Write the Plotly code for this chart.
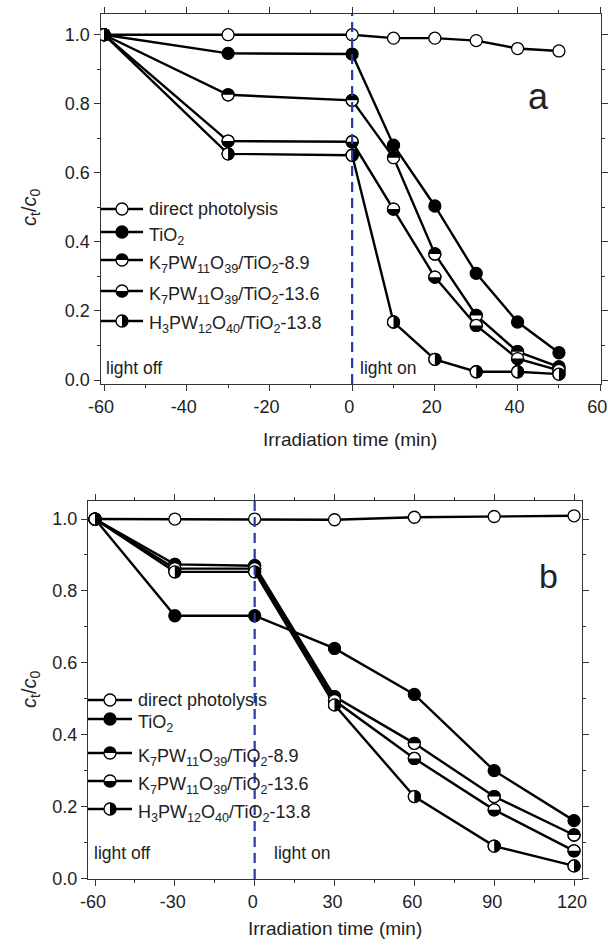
import plotly.graph_objects as go

# ---------------- data ----------------
time_a = [-60, -30, 0, 10, 20, 30, 40, 50]
photolysis_a = [1.0, 1.0, 1.0, 0.99, 0.99, 0.983, 0.96, 0.953]
tio2_a = [1.0, 0.946, 0.944, 0.68, 0.504, 0.309, 0.168, 0.079]
k89_a = [1.0, 0.826, 0.81, 0.644, 0.365, 0.187, 0.082, 0.038]
k136_a = [1.0, 0.692, 0.69, 0.495, 0.298, 0.158, 0.062, 0.028]
h138_a = [1.0, 0.655, 0.651, 0.168, 0.06, 0.024, 0.024, 0.017]

time_b = [-60, -30, 0, 30, 60, 90, 120]
photolysis_b = [1.0, 1.0, 1.0, 0.998, 1.005, 1.007, 1.009]
tio2_b = [1.0, 0.731, 0.731, 0.640, 0.512, 0.300, 0.161]
k89_b = [1.0, 0.874, 0.870, 0.506, 0.376, 0.228, 0.121]
k136_b = [1.0, 0.862, 0.862, 0.495, 0.334, 0.191, 0.077]
h138_b = [1.0, 0.853, 0.853, 0.483, 0.228, 0.090, 0.035]

series_names = [
    "direct photolysis",
    "TiO<sub>2</sub>",
    "K<sub>7</sub>PW<sub>11</sub>O<sub>39</sub>/TiO<sub>2</sub>-8.9",
    "K<sub>7</sub>PW<sub>11</sub>O<sub>39</sub>/TiO<sub>2</sub>-13.6",
    "H<sub>3</sub>PW<sub>12</sub>O<sub>40</sub>/TiO<sub>2</sub>-13.8",
]
series_styles = ["open", "filled", "top", "bottom", "right"]

xticks_a = [-60, -40, -20, 0, 20, 40, 60]
xticks_b = [-60, -30, 0, 30, 60, 90, 120]
yticks = [0.0, 0.2, 0.4, 0.6, 0.8, 1.0]

# ---------------- layout helpers ----------------
W, H = 608, 946
FONT = "Liberation Sans, Arial, sans-serif"
MR = 6.0       # marker radius (px)
MLW = 1.3      # marker outline width
LW = 2.4       # data line width
BLUE = "#2a3a9e"


def pxx(x):
    return x / W


def pxy(y):
    return 1 - y / H


K = 0.5523


def half_path(kind, r):
    k = K * r
    if kind == "top":
        pts = [(-r, 0), (-r, k), (-k, r), (0, r), (k, r), (r, k), (r, 0)]
    elif kind == "bottom":
        pts = [(-r, 0), (-r, -k), (-k, -r), (0, -r), (k, -r), (r, -k), (r, 0)]
    else:  # right
        pts = [(0, r), (k, r), (r, k), (r, 0), (r, -k), (k, -r), (0, -r)]
    f = lambda p: f"{p[0]:.3f},{p[1]:.3f}"
    return (f"M{f(pts[0])} C{f(pts[1])} {f(pts[2])} {f(pts[3])} "
            f"C{f(pts[4])} {f(pts[5])} {f(pts[6])} Z")


shapes = []
annotations = []


def marker_shapes(xref, yref, xa, ya, kind):
    out = [dict(type="circle", xref=xref, yref=yref,
                xsizemode="pixel", ysizemode="pixel",
                xanchor=xa, yanchor=ya, x0=-MR, x1=MR, y0=-MR, y1=MR,
                fillcolor="white", line=dict(color="black", width=MLW),
                layer="above")]
    out.append(dict(type="path", xref=xref, yref=yref,
                    xsizemode="pixel", ysizemode="pixel",
                    xanchor=xa, yanchor=ya, path=half_path(kind, MR + 0.2),
                    fillcolor="black", line=dict(width=0), layer="above"))
    return out


fig = go.Figure()

panels = [
    dict(t=time_a, ys=[photolysis_a, tio2_a, k89_a, k136_a, h138_a], xa="x", ya="y"),
    dict(t=time_b, ys=[photolysis_b, tio2_b, k89_b, k136_b, h138_b], xa="x2", ya="y2"),
]

for p in panels:
    for name, style, vals in zip(series_names, series_styles, p["ys"]):
        fill = "black" if style == "filled" else "white"
        fig.add_trace(go.Scatter(
            x=p["t"], y=vals, mode="lines+markers", name=name,
            xaxis=p["xa"], yaxis=p["ya"], showlegend=False,
            line=dict(color="black", width=LW),
            marker=dict(size=2 * MR, color=fill, line=dict(color="black", width=MLW)),
        ))
    # half-filled markers drawn in series order
    for style, vals in zip(series_styles, p["ys"]):
        if style in ("top", "bottom", "right"):
            for t, v in zip(p["t"], vals):
                shapes.extend(marker_shapes(p["xa"], p["ya"], t, v, style))

# dashed "light on" lines at t = 0
for xa, ya in [("x", "y"), ("x2", "y2")]:
    shapes.append(dict(type="line", xref=xa, yref=ya + " domain", x0=0, x1=0, y0=0, y1=1,
                       line=dict(color=BLUE, width=2.2, dash="10px,6px"), layer="above"))

# ---------------- manual legends ----------------
legends = [
    dict(rows=[209, 232, 260, 291, 321], x0=100.7, x1=143, xm=122, xt=147, size=18),
    dict(rows=[700, 719, 753, 781, 809], x0=88, x1=132, xm=110, xt=136, size=18),
]
for lg in legends:
    for name, style, yrow in zip(series_names, series_styles, lg["rows"]):
        shapes.append(dict(type="line", xref="paper", yref="paper",
                           x0=pxx(lg["x0"]), x1=pxx(lg["x1"]), y0=pxy(yrow), y1=pxy(yrow),
                           line=dict(color="black", width=LW), layer="above"))
        fill = "black" if style == "filled" else "white"
        shapes.append(dict(type="circle", xref="paper", yref="paper",
                           xsizemode="pixel", ysizemode="pixel",
                           xanchor=pxx(lg["xm"]), yanchor=pxy(yrow),
                           x0=-MR, x1=MR, y0=-MR, y1=MR, fillcolor=fill,
                           line=dict(color="black", width=MLW), layer="above"))
        if style in ("top", "bottom", "right"):
            shapes.append(dict(type="path", xref="paper", yref="paper",
                               xsizemode="pixel", ysizemode="pixel",
                               xanchor=pxx(lg["xm"]), yanchor=pxy(yrow),
                               path=half_path(style, MR + 0.2), fillcolor="black",
                               line=dict(width=0), layer="above"))
        has_sub = "<sub>" in name
        annotations.append(dict(
            text=name, xref="paper", yref="paper", x=pxx(lg["xt"]), y=pxy(yrow),
            xanchor="left", yanchor="middle", showarrow=False,
            yshift=(-4 if has_sub else 0),
            font=dict(family=FONT, size=lg["size"], color="#222")))


def text(t, x, y, size, xanchor="center", angle=0):
    annotations.append(dict(text=t, xref="paper", yref="paper", x=pxx(x), y=pxy(y),
                            xanchor=xanchor, yanchor="middle", showarrow=False,
                            textangle=angle, font=dict(family=FONT, size=size, color="#222")))


text("a", 538, 96, 36)
text("b", 548, 576, 34)
text("light off", 104, 368, 17.5, "left")
text("light on", 358, 368, 17.5, "left")
text("light off", 92, 853, 17.5, "left")
text("light on", 272, 853, 17.5, "left")
text("Irradiation time (min)", 350, 440, 19)
text("Irradiation time (min)", 335, 928, 19)
text("<i>c</i><sub>t</sub>/<i>c</i><sub>0</sub>", 30, 208, 20, angle=-90)
text("<i>c</i><sub>t</sub>/<i>c</i><sub>0</sub>", 30, 690, 20, angle=-90)

axis_common = dict(showgrid=False, zeroline=False, showline=True, linecolor="#333",
                   linewidth=1.4, mirror="ticks", ticks="outside", ticklen=6,
                   tickwidth=1.3, tickcolor="#333", automargin=False,
                   ticklabeloverflow="allow",
                   tickfont=dict(family=FONT, size=18, color="#222"))
minor_common = dict(ticks="outside", ticklen=3, tickcolor="#333", tickwidth=1.2)

fig.update_layout(
    width=W, height=H, margin=dict(l=0, r=0, t=0, b=0, autoexpand=False),
    paper_bgcolor="white", plot_bgcolor="white", showlegend=False,
    xaxis=dict(domain=[pxx(100.7), pxx(600.5)], range=[-60.8, 60.05], anchor="y",
               tickmode="array", tickvals=xticks_a, ticktext=[f"{v:d}" for v in xticks_a],
               ticklabelshift=-3,
               minor=dict(dtick=10, tick0=0, **minor_common),
               **axis_common),
    yaxis=dict(domain=[pxy(384), pxy(14)], range=[-0.0115, 1.06], anchor="x",
               tickmode="array", tickvals=yticks, ticktext=[f"{v:.1f}" for v in yticks],
               minor=dict(dtick=0.1, tick0=0, **minor_common),
               **axis_common),
    xaxis2=dict(domain=[pxx(88), pxx(582)], range=[-62.63, 123.0], anchor="y2",
                tickmode="array", tickvals=xticks_b, ticktext=[f"{v:d}" for v in xticks_b],
                ticklabelshift=-2,
                minor=dict(dtick=15, tick0=0, **minor_common),
                **axis_common),
    yaxis2=dict(domain=[pxy(879), pxy(500.7)], range=[-0.0014, 1.051], anchor="x2",
                tickmode="array", tickvals=yticks, ticktext=[f"{v:.1f}" for v in yticks],
                minor=dict(dtick=0.1, tick0=0, **minor_common),
                **axis_common),
    shapes=shapes,
    annotations=annotations,
)

# remove the default 8px page margin so the 608x946 figure fills the window exactly
fig.write_html("out.html",
               config={"displayModeBar": False},
               post_script="document.body.style.margin='0';document.body.style.overflow='hidden';")
